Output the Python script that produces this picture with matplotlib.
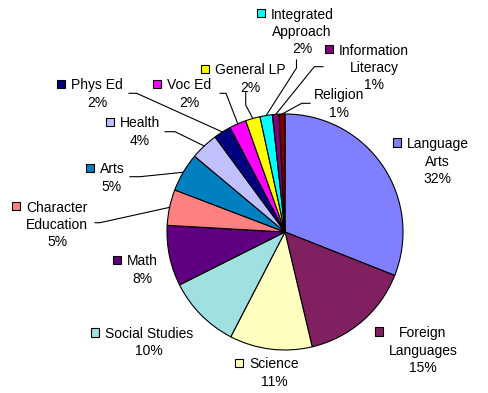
import matplotlib
matplotlib.use("Agg")
import matplotlib.pyplot as plt
import numpy as np
from matplotlib.patches import Rectangle

# share of lesson plans per subject, clockwise from 12 o'clock
subjects = ["Language\nArts", "Foreign\nLanguages", "Science", "Social Studies",
            "Math", "Character\nEducation", "Arts", "Health", "Phys Ed", "Voc Ed",
            "General LP", "Integrated\nApproach", "Information\nLiteracy", "Religion"]
shares = [31.0, 15.3, 11.3, 10.0, 8.3, 4.9, 5.3, 3.8, 2.4, 2.3, 2.0, 1.7, 0.9, 0.8]
pct_labels = ["32%", "15%", "11%", "10%", "8%", "5%", "5%", "4%",
              "2%", "2%", "2%", "2%", "1%", "1%"]
colors = ["#8080FF", "#802060", "#FFFFC0", "#A0E0E0", "#600080", "#FF8080",
          "#0080C0", "#C0C0FF", "#000080", "#FF00FF", "#FFFF00", "#00FFFF",
          "#800080", "#800000"]

# label layout in pixels from top-left: (centre x, first baseline y)
label_pos = [(437.5, 147.5), (423, 336.5), (274, 368), (149, 337.5),
             (142.5, 265), (57, 211), (112, 173), (140, 127), (97, 89),
             (189, 89), (250, 74), (302, 18), (374, 54), (339, 99)]
show_key = [True] * 13 + [False]
LINE_STEP = 17.7

# leader line anchor points near the labels (pixels from top-left)
leaders = {
    5: [(95, 222.7), (100, 222.7)],
    6: [(130, 176.7), (140, 176.7)],
    7: [(165, 131.7), (175, 131.7)],
    8: [(129, 93.3), (136.7, 93.3)],
    9: [(220, 93.3), (226, 93.3)],
    10: [(245.7, 92.7), (245.7, 105)],
    11: [(296.5, 60), (296.5, 68)],
    12: [(323, 66.7), (314.3, 66.7)],
    13: [(310, 103.3), (301.7, 103.3)],
}

W, H = 488, 393
CX, CY, R = 285, 232, 118


def py(y):
    return H - y


fig = plt.figure(figsize=(W / 100, H / 100), dpi=100)
ax = fig.add_axes([0, 0, 1, 1])

wedges, _ = ax.pie(shares, colors=colors, startangle=90, counterclock=False,
                   center=(CX, py(CY)), radius=R,
                   wedgeprops=dict(edgecolor="black", linewidth=0.8))
ax.set_xlim(0, W)
ax.set_ylim(0, H)
ax.set_aspect("equal")
ax.axis("off")

texts = []
for name, pct, (x, y) in zip(subjects, pct_labels, label_pos):
    s = f"{name}\n{pct}"
    last_base = y + (s.count("\n")) * LINE_STEP
    t = ax.text(x, py(last_base), s, ha="center", va="baseline",
                multialignment="center", fontsize=10, linespacing=1.3,
                family=["Liberation Sans", "DejaVu Sans"], color="black")
    texts.append(t)

fig.canvas.draw()
renderer = fig.canvas.get_renderer()
for t, col, key, (x, y) in zip(texts, colors, show_key, label_pos):
    if not key:
        continue
    bb = t.get_window_extent(renderer)
    ax.add_patch(Rectangle((bb.x0 - 6 - 8, py(y) + 1), 8, 8.5,
                           facecolor=col, edgecolor="black", linewidth=0.8))

for i, pts in leaders.items():
    w = wedges[i]
    mid = np.deg2rad((w.theta1 + w.theta2) / 2)
    ex = CX + R * np.cos(mid)
    ey = py(CY) + R * np.sin(mid)
    xs = [p[0] for p in pts] + [ex]
    ys = [py(p[1]) for p in pts] + [ey]
    ax.plot(xs, ys, color="black", linewidth=0.8)

fig.savefig("out.png", dpi=100)
